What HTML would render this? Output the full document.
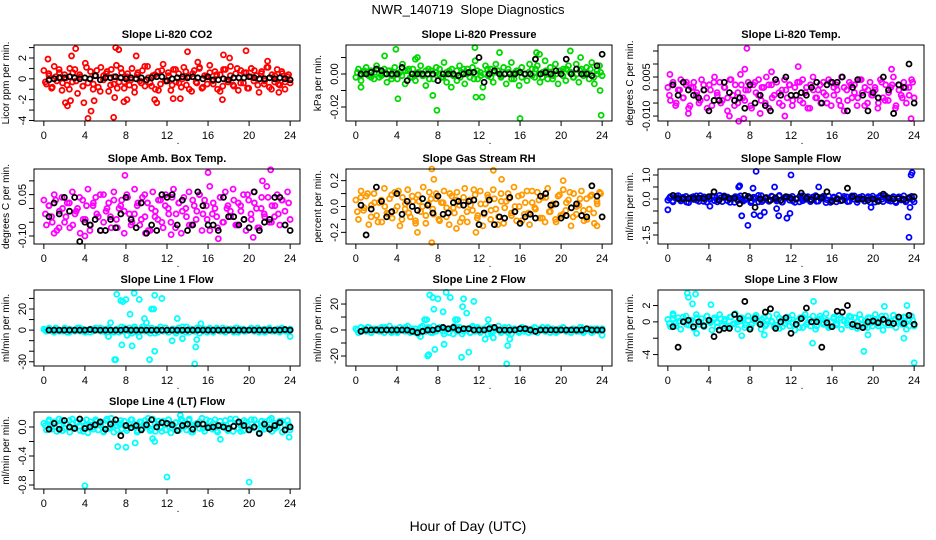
<!DOCTYPE html>
<html><head><meta charset="utf-8"><style>
html,body{margin:0;padding:0;background:#fff;}
svg{display:block;font-family:"Liberation Sans",sans-serif;}
</style></head><body>
<svg id="chart" width="936" height="540" viewBox="0 0 936 540" xmlns="http://www.w3.org/2000/svg">
<rect width="936" height="540" fill="#fff"/>
<text x="468" y="14" font-size="13" text-anchor="middle" xml:space="preserve">NWR_140719  Slope Diagnostics</text>
<text x="468" y="531" font-size="14" text-anchor="middle">Hour of Day (UTC)</text>
</svg>
<script>
const hourTicks=[0,4,8,12,16,20,24];
const co2Vals=[0.8,-0.5,0.3,-0.9,1.2,-0.2,0.6,-1.1,0.4,-0.6,1.0,-0.3,0.9,-1.4,0.2,-0.7,1.5,-0.4,0.7,-1.0,0.3,-0.8,1.1,-0.1,0.5,-1.2,0.9,-0.5,1.3,-0.3,0.6,-0.9,0.2,-0.6,1.0,-1.3,0.4,-0.2,0.8,-0.7,1.2,-0.4,0.3,-1.0,0.7,-0.5,1.4,-0.2,0.6,-1.1,0.9,-0.3,0.5,-0.8,1.1,-0.6,0.2,-1.2,0.8,-0.4,1.0,-0.9,0.3,-0.5,1.3,-0.2,0.7,-1.0,0.4,-0.7,0.9,-0.3,1.2,-0.6,0.5,-1.1,0.8,-0.4,0.6,-0.9,1.0,-0.2,0.3,-1.3,0.7,-0.5,1.1,-0.8,0.4,-0.3,0.9,-0.6,0.5,-1.0,0.2,-0.4];
const co2Vals2=[-0.3,0.5,-0.8,0.2,0.9,-0.4,0.1,-1.0,0.6,-0.2,0.4,-0.7,1.1,0.0,-0.5,0.8,-1.2,0.3,0.7,-0.6,0.2,-0.9,1.0,-0.3,0.5,-0.1,-0.8,0.6,-0.4,1.2,0.1,-0.7,0.4,-1.1,0.8,-0.2,0.3,-0.6,0.9,-0.4,0.0,0.7,-1.0,0.5,-0.3,1.1,-0.8,0.2,0.6,-0.5,0.4,-1.2,0.9,-0.1,0.3,-0.7,1.0,-0.4,0.6,-0.9,0.2,0.8,-0.6,0.5,-0.2,1.1,-1.0,0.3,-0.5,0.7,-0.3,0.4];
const co2Black=[-0.1,0.0,0.1,0.1,0.2,0.1,0.0,0.1,0.0,0.3,-0.1,0.1,0.1,0.2,0.1,0.0,0.1,0.0,0.1,-0.1,0.1,0.2,0.2,-0.2,0.0,0.1,0.2,0.1,0.2,0.1,0.0,0.2,-0.1,-0.1,0.0,-0.1,0.1,0.1,0.1,0.2,0.1,0.0,0.0,0.1,0.0,0.1,0.0,-0.1];
const co2Out=[[0.4,1.9],[2.1,-2.3],[2.3,-2.6],[2.6,-2.1],[2.7,2.2],[3.1,2.9],[3.9,-2.3],[4.3,-3.8],[4.6,-3.1],[4.9,-2.1],[7.0,3.0],[7.3,2.8],[6.8,-3.7],[6.9,-1.8],[7.8,-2.2],[8.1,-2.0],[9.0,2.2],[10.8,-2.0],[11.0,-2.3],[12.6,-1.9],[14.0,2.6],[13.3,-1.9],[15.0,1.6],[17.5,2.3],[17.4,-2.0],[18.1,2.0],[19.7,2.7],[21.8,1.7],[22.9,-1.3]];
const presVals=[-0.002,0.003,-0.004,0.001,0.004,-0.001,0.002,-0.003,0.005,-0.002,0.000,0.003,-0.005,0.002,-0.001,0.004,-0.003,0.001,0.006,-0.006,0.002,-0.002,0.003,-0.004,0.001,0.005,-0.001,-0.007,0.003,0.002,-0.003,0.004,0.000,-0.002,0.007,-0.005,0.002,0.003,-0.001,-0.004,0.005,0.001,-0.006,0.003,-0.002,0.004,0.008,-0.003,0.001,-0.008,0.005,-0.001,0.003,-0.005,0.006,0.002,-0.002,0.004,-0.006,0.001,0.007,-0.003,0.002,-0.007,0.004,0.000,-0.004,0.006,0.003,-0.002,0.005,-0.005,0.001,0.008,-0.003,0.004,-0.001,0.006,-0.006,0.002,0.003,-0.004,0.005,0.001,-0.002,0.006,-0.005,0.003,0.000,0.004,-0.003,0.007,-0.006,0.002,0.005,-0.001];
const presVals2=[0.001,-0.001,0.002,0.000,-0.002,0.001,0.003,-0.001,0.000,0.002,-0.003,0.001,0.000,-0.001,0.002,0.003,-0.002,0.000,0.001,-0.001,0.002,-0.003,0.000,0.001,0.003,-0.002,0.001,0.000,-0.001,0.002,-0.002,0.003,0.000,0.001,-0.003,0.002,-0.001,0.000,0.003,-0.002,0.001,0.002,-0.001,0.000,0.003,-0.003,0.001,0.002,-0.002,0.000,0.001,-0.001,0.003,0.000,-0.002,0.002,0.001,-0.003,0.000,0.002,-0.001,0.003,0.001,-0.002,0.000,0.002,-0.001,0.001,0.003,-0.002,0.000,0.001];
const presBlack=[0,0,0.001,0.003,0.002,0,0,0,0.004,-0.004,0,0,0,0,0,-0.004,0,0,0,-0.001,0,0.001,0.001,0.010,-0.005,0,0.002,0,0,0,0,0.001,0,0,0.009,0,0.001,0,0.002,0,0.009,0,0.003,0,0,-0.001,0.005,0.012];
const presOut=[[0.5,-0.008],[2.8,0.011],[3.9,0.015],[4.1,-0.015],[5.8,0.009],[7.9,-0.022],[7.5,-0.013],[11.6,0.016],[11.7,-0.014],[12.3,-0.014],[14.0,0.013],[16.0,-0.027],[17.6,0.013],[17.9,0.012],[20.9,0.014],[21.9,0.010],[23.9,-0.025],[23.8,-0.010],[6.0,0.010],[9.3,-0.008]];
const tempVals=[0.001,-0.004,0.003,-0.006,0.000,0.004,-0.003,0.002,-0.007,0.001,0.003,-0.002,-0.005,0.004,0.000,-0.003,0.002,-0.006,0.005,-0.001,0.003,-0.004,0.001,-0.008,0.004,-0.002,0.002,-0.005,0.006,-0.003,0.000,0.003,-0.006,0.002,-0.001,0.004,-0.004,0.001,0.005,-0.007,0.002,-0.002,0.003,-0.005,0.000,0.004,-0.003,0.002,-0.006,0.001,0.003,-0.004,0.004,-0.001,-0.007,0.002,0.005,-0.003,0.000,-0.005,0.003,-0.002,0.004,-0.006,0.001,0.002,-0.004,0.005,-0.008,0.000,0.003,-0.003,0.002,-0.006,0.004,-0.001,0.001,-0.005,0.003,-0.002,0.000,-0.007,0.004,-0.003,0.002,-0.004,0.001,0.005,-0.006,0.002,-0.002,0.003,-0.005,0.001,0.004,-0.003];
const tempVals2=[-0.002,0.002,-0.005,0.000,-0.003,0.003,-0.006,0.001,-0.001,-0.004,0.002,-0.007,0.000,0.003,-0.002,-0.005,0.001,-0.003,0.004,-0.006,-0.001,0.002,-0.004,0.000,-0.007,0.003,-0.002,0.001,-0.005,0.002,-0.003,0.004,-0.001,-0.006,0.000,0.002,-0.004,-0.002,0.003,-0.005,0.001,-0.007,0.000,-0.003,0.002,-0.001,-0.005,0.003,-0.002,0.000,-0.006,0.001,-0.004,0.002,-0.001,-0.003,0.004,-0.006,0.000,-0.002,0.001,-0.005,0.003,-0.004,-0.001,0.002,-0.007,0.000,-0.003,0.001,-0.002,0.003];
const tempBlack=[0.002,-0.002,0.003,0.000,-0.002,-0.003,0.000,-0.008,-0.004,-0.004,0.003,-0.001,-0.004,-0.003,-0.007,0.002,-0.005,-0.002,-0.006,-0.008,0.004,-0.002,0.005,-0.002,-0.002,-0.001,-0.002,0.001,0.003,-0.005,0.002,0.003,0.003,0.005,-0.008,0.001,0.004,-0.002,-0.008,-0.001,-0.003,0.005,0.000,-0.009,0.002,0.001,0.010,-0.005];
const tempOut=[[0.2,0.006],[0.4,0.002],[7.7,0.016],[7.5,0.008],[6.9,-0.012],[6.0,-0.010],[7.4,-0.011],[10.1,0.007],[12.7,0.009],[11.4,-0.010],[21.8,0.008],[23.7,-0.011],[2.0,-0.009],[9.0,-0.009]];
const ambVals=[0.03,-0.06,0.01,-0.03,0.05,-0.08,-0.01,0.04,-0.05,0.02,-0.07,0.06,-0.02,0.00,-0.09,0.03,-0.04,0.07,-0.06,0.01,0.04,-0.03,-0.08,0.05,-0.01,0.02,-0.07,0.06,-0.04,0.00,0.03,-0.09,0.05,-0.02,-0.05,0.07,0.01,-0.06,0.04,-0.03,0.02,-0.08,0.06,-0.01,-0.04,0.03,-0.07,0.05,0.00,-0.05,0.07,-0.02,0.02,-0.09,0.04,-0.03,0.06,-0.06,0.01,-0.01,0.05,-0.08,0.03,-0.04,0.08,-0.02,0.00,-0.07,0.04,-0.05,0.06,0.01,-0.03,0.07,-0.06,0.02,-0.01,0.05,-0.08,0.03,-0.04,0.06,0.00,-0.07,0.04,-0.02,0.08,-0.05,0.01,-0.03,0.05,-0.06,0.03,-0.01,0.06,-0.04];
const ambVals2=[-0.02,0.01,-0.05,0.03,-0.07,0.00,-0.03,0.02,-0.06,-0.01,0.04,-0.04,0.01,-0.08,0.02,-0.02,0.05,-0.05,0.00,-0.03,0.03,-0.07,0.01,-0.01,0.04,-0.06,-0.02,0.02,-0.04,0.05,-0.08,0.00,-0.03,0.03,-0.05,0.01,-0.02,0.04,-0.07,0.02,-0.01,0.00,-0.06,0.03,-0.04,0.05,-0.02,0.01,-0.08,0.02,-0.03,0.04,-0.05,0.00,-0.01,0.03,-0.06,0.01,-0.04,0.05,-0.02,0.02,-0.07,0.00,-0.03,0.04,-0.05,0.01,-0.02,0.03,-0.06,0.02];
const ambBlack=[-0.03,0.02,-0.02,0.04,-0.01,0.04,-0.12,-0.05,-0.06,-0.04,-0.08,-0.08,-0.04,-0.07,-0.02,0.04,-0.04,-0.07,0.02,-0.09,-0.06,-0.08,0.05,0.04,0.05,-0.06,0.03,-0.08,-0.06,0.06,0.01,-0.06,-0.06,-0.08,0.04,-0.03,-0.03,-0.06,-0.04,-0.07,0.06,-0.08,-0.05,-0.04,0.04,0.04,-0.06,-0.08];
const ambOut=[[7.9,0.12],[16.0,0.13],[22.1,0.14],[17.0,-0.11],[20.4,-0.105],[4.0,-0.10],[1.0,-0.09],[9.9,-0.09],[12.4,-0.095],[21.3,0.10]];
const rhVals=[0.05,-0.10,0.12,-0.03,0.08,-0.14,0.01,0.10,-0.07,0.03,-0.12,0.14,-0.05,0.06,-0.09,0.11,0.00,-0.15,0.07,-0.02,0.13,-0.08,0.04,-0.11,0.09,-0.04,0.15,-0.13,0.02,0.06,-0.06,0.10,-0.10,0.03,0.12,-0.01,-0.14,0.08,-0.05,0.11,0.01,-0.09,0.14,-0.12,0.05,-0.03,0.09,-0.07,0.12,-0.15,0.02,0.07,-0.10,0.13,-0.02,-0.08,0.10,-0.13,0.04,0.06,-0.05,0.15,-0.11,0.00,0.09,-0.06,0.12,-0.14,0.03,-0.01,0.11,-0.09,0.07,-0.12,0.14,-0.04,0.02,-0.10,0.08,-0.07,0.13,-0.03,0.05,-0.15,0.10,-0.06,0.01,0.12,-0.11,0.06,-0.02,0.09,-0.13,0.04,0.11,-0.08];
const rhVals2=[-0.04,0.07,-0.01,0.10,-0.08,0.03,-0.12,0.05,0.00,-0.06,0.09,-0.03,0.12,-0.10,0.02,-0.05,0.08,-0.13,0.04,0.00,-0.07,0.11,-0.02,0.06,-0.11,0.03,-0.08,0.10,-0.01,0.05,-0.12,0.07,-0.04,0.01,0.13,-0.09,0.02,-0.06,0.09,-0.03,0.06,-0.14,0.04,-0.01,0.10,-0.07,0.00,0.08,-0.11,0.03,-0.05,0.12,-0.02,0.05,-0.09,0.07,-0.04,0.01,-0.12,0.09,-0.06,0.03,0.11,-0.08,0.00,0.06,-0.03,-0.10,0.08,-0.05,0.02,0.10];
const rhBlack=[0.01,-0.22,-0.02,0.15,0.04,-0.08,-0.04,0.10,-0.06,0.04,0.00,-0.03,0.06,0.01,-0.05,0.08,-0.06,-0.05,0.03,0.04,0.01,0.04,0.05,-0.14,-0.05,0.05,-0.14,-0.08,-0.09,0.07,-0.04,-0.13,-0.08,-0.06,-0.09,0.08,0.10,0.01,0.02,-0.09,-0.07,-0.01,0.02,-0.07,-0.08,0.16,0.08,-0.08];
const rhOut=[[7.4,0.29],[7.4,-0.28],[13.4,0.28],[6.0,-0.2],[11.7,-0.2],[20.2,0.2],[7.6,0.21],[14.2,0.21],[9.8,-0.17],[23.5,-0.15]];
const sfVals=[-0.05,0.10,-0.12,0.03,0.14,-0.08,0.00,0.11,-0.15,0.06,-0.02,0.13,-0.10,0.04,0.09,-0.13,0.01,0.12,-0.07,-0.03,0.15,-0.11,0.05,0.08,-0.14,0.02,0.10,-0.06,0.13,-0.09,-0.01,0.11,-0.15,0.07,0.03,-0.12,0.14,-0.04,0.06,-0.10,0.12,0.00,-0.08,0.15,-0.13,0.04,0.09,-0.05,0.11,-0.14,0.02,0.13,-0.07,-0.02,0.10,-0.11,0.06,0.14,-0.09,0.01,0.08,-0.15,0.12,-0.03,0.05,-0.12,0.15,-0.06,0.03,0.09,-0.10,0.13,-0.01,-0.14,0.07,0.11,-0.08,0.04,-0.13,0.12,0.00,-0.05,0.14,-0.11,0.06,0.02,-0.09,0.10,-0.15,0.08,-0.04,0.13,-0.07,0.01,0.11,-0.12];
const sfVals2=[0.04,-0.08,0.12,-0.02,0.07,-0.13,0.01,0.10,-0.05,0.14,-0.10,0.03,-0.01,0.09,-0.12,0.05,0.13,-0.07,0.02,-0.14,0.08,0.00,-0.04,0.11,-0.09,0.06,0.15,-0.11,0.03,-0.06,0.10,-0.02,0.12,-0.13,0.04,0.07,-0.08,0.01,-0.12,0.14,0.00,-0.05,0.09,-0.10,0.06,0.12,-0.03,-0.14,0.08,0.02,-0.07,0.11,-0.11,0.05,0.13,-0.04,0.00,-0.09,0.10,0.03,-0.13,0.07,-0.01,0.14,-0.06,0.04,-0.10,0.09,0.01,-0.12,0.06,-0.03];
const sfBlack=[0.15,0.02,0.01,0.02,0.03,0.04,0.02,0.1,0.3,-0.05,0.1,0.02,0.03,-0.2,0.15,0.05,-0.35,0.0,0.05,-0.05,0.05,-0.05,0.1,0.03,0.0,0.25,0.05,-0.03,0.1,0.05,0.3,-0.1,0.0,-0.05,0.45,0.1,0.0,0.0,-0.05,0.0,-0.1,0.2,0.05,0.0,0.02,-0.02,0.05,0.1];
const sfOut=[[0.0,-0.45],[4.1,-0.3],[6.9,0.5],[7.0,0.55],[7.2,-0.7],[7.8,-1.1],[8.3,0.45],[8.6,1.15],[8.4,-0.65],[9.0,-0.7],[9.4,-0.55],[10.4,0.5],[10.6,-0.4],[10.8,-0.7],[11.6,-0.8],[11.9,-0.6],[12.0,1.0],[14.7,0.5],[19.8,-0.35],[23.5,-1.6],[23.4,-0.75],[23.7,1.0],[23.8,1.1],[23.6,-0.35]];
const l1Vals=[1,-1,2,0,-2,1,-1,0,2,-2,1,0,-1,2,-1,1,-2,0,1,-1,2,0,-1,1,-2,2,0,-1,1,-2,3,-1,0,2,-3,1,-2,0,3,-1,2,-3,0,1,-2,3,-1,2,-2,0,1,-3,2,-1,0,3,-2,1,-1,2,-3,0,1,-2,2,-1,0,1,-1,2,-2,0,1,-1,2,-2,0,1,-1,0,2,-1,1,-2,0,1,-1,2,-1,0,1,-2,1,0,-1,1];
const l1Vals2=[0,1,-1,2,0,-1,1,-2,0,1,2,-1,0,-2,1,0,2,-1,1,0,-2,1,-1,2,0,-1,3,-2,1,0,-1,2,-3,1,0,2,-2,1,-1,0,3,-2,1,0,-1,2,-1,0,1,-2,2,0,-1,1,0,-2,2,1,-1,0,1,-1,2,0,-2,1,0,-1,1,2,-1,0];
const l1Black=[0,0,0,0,0,0,0,0,0.5,0,0,0,0,0,0,0.5,0,0,0,0,0,0,0,0,0,0,0,0,0,0,0,0,0,0,0,0,0,0,0,0,0,0,0,0,0,0,0.5,0];
const l1Out=[[7.1,34],[7.5,28],[7.7,27],[8.0,29],[8.8,35],[9.3,29],[10.8,33],[11.5,30],[8.4,15],[9.8,11],[10.5,20],[10.7,20],[10.0,7],[6.5,7],[6.3,-6],[7.6,-14],[8.6,-15],[10.8,-20],[6.9,-28],[7.0,-28],[10.3,-28],[12.5,-10],[13.0,11],[14.8,-16],[14.9,-9],[14.7,-32],[13.5,-8],[15.3,6],[24.0,-6],[9.3,-6],[8.1,-5]];
const l2Vals=[1,-2,2,0,-1,2,-2,1,0,-1,2,-2,1,3,-1,0,-2,2,1,-1,3,-2,0,1,-3,2,-1,0,2,-2,3,-1,1,2,-3,0,-2,1,3,-1,2,-3,1,0,-2,3,-1,2,-2,1,0,-3,2,-1,1,3,-2,0,-1,2,-3,1,0,-2,2,-1,1,0,-1,2,-2,1,0,-1,2,-2,1,0,-1,1,2,-1,0,-2,1,0,-1,2,-1,1,0,-2,1,0,-1,1];
const l2Vals2=[0,-1,1,2,-2,0,1,-1,2,0,-2,1,-1,0,2,-1,1,-2,0,3,-1,1,-2,0,2,-1,0,1,-3,2,0,-1,1,-2,2,1,-1,0,3,-2,1,0,-1,2,-2,0,1,-1,2,0,-2,1,-1,0,2,-1,1,0,-2,1,2,-1,0,1,-1,2,-2,0,1,-1,1,0];
const l2Black=[-1,0,0,0,0,0,0,0,0,0,-1,-2,-1,0,0,1,2,1,2,0,1,1,0,0,0,1,2,0,0,0,0,1,1,0,-1,0,0,0,0,0,0,0,0,0,1,0,0,0];
const l2Out=[[7.2,27],[7.5,25],[8.0,24],[8.8,29],[9.2,25],[10.5,24],[11.5,22],[7.6,16],[8.5,14],[10.4,18],[10.8,13],[9.7,8],[9.9,8],[6.7,8],[6.9,8],[12.9,8],[7.7,-15],[8.6,-11],[7.0,-20],[7.1,-19],[10.3,-21],[11.0,-17],[12.6,-7],[14.7,-26],[14.8,-12],[15.0,-7],[13.4,-6],[6.3,-5],[24.0,-4]];
const l3Vals=[0.3,-0.6,0.8,-0.2,0.5,-0.9,0.1,0.7,-0.4,0.2,-0.8,0.9,-0.3,0.4,-0.6,0.7,0.0,-1.0,0.5,-0.1,0.9,-0.5,0.3,-0.7,0.6,-0.3,1.0,-0.9,0.1,0.4,-0.4,0.7,-0.7,0.2,0.8,-0.1,-0.9,0.5,-0.3,0.7,0.1,-0.6,0.9,-0.8,0.3,-0.2,0.6,-0.5,0.8,-1.0,0.1,0.5,-0.7,0.9,-0.1,-0.5,0.7,-0.9,0.3,0.4,-0.3,1.0,-0.7,0.0,0.6,-0.4,0.8,-0.9,0.2,-0.1,0.7,-0.6,0.5,-0.8,0.9,-0.3,0.1,-0.7,0.5,-0.5,0.9,-0.2,0.3,-1.0,0.7,-0.4,0.1,0.8,-0.7,0.4,-0.1,0.6,-0.9,0.3,0.7,-0.5];
const l3Vals2=[-0.2,0.4,-0.5,0.1,0.6,-0.3,0.2,-0.7,0.5,0.0,-0.4,0.7,-0.1,0.3,-0.6,0.4,0.1,-0.5,0.6,-0.2,0.0,0.5,-0.7,0.2,-0.3,0.6,-0.1,0.3,-0.5,0.7,0.0,-0.4,0.5,-0.6,0.2,0.4,-0.2,0.1,-0.7,0.6,-0.3,0.3,0.0,-0.5,0.7,-0.1,0.2,-0.6,0.4,-0.2,0.5,0.1,-0.4,0.6,-0.3,0.0,0.3,-0.6,0.5,-0.1,0.2,-0.5,0.7,-0.2,0.1,-0.4,0.4,0.0,-0.3,0.6,-0.5,0.2];
const l3Black=[-0.6,-3.1,0.0,0.2,-0.6,0.0,-0.5,0.2,-1.8,-1.0,-0.8,-0.8,0.9,0.4,2.5,-0.9,0.4,-0.3,1.2,1.6,-0.8,0.0,0.5,-1.4,-0.3,0.4,1.7,0.0,0.0,-3.1,-0.1,-0.6,1.3,1.2,2.0,-0.3,-0.5,-0.7,0.0,0.1,-0.1,0.3,-0.1,-0.2,0.6,-0.2,0.8,-0.3];
const l3Out=[[1.9,3.5],[2.0,3.0],[2.7,3.4],[2.4,2.2],[4.2,2.1],[14.2,2.5],[14.1,-2.6],[19.1,-3.6],[19.5,-1.6],[23.0,-2.0],[24.0,-5.0],[23.3,2.0],[2.8,-1.4],[7.2,-1.7],[9.4,-1.6],[21.1,1.9],[0.5,1.0]];
const l4Vals=[0.05,-0.04,0.10,0.00,0.07,-0.06,0.02,0.09,-0.02,0.04,-0.07,0.11,-0.01,0.06,-0.05,0.08,0.01,-0.08,0.07,0.00,0.10,-0.04,0.03,-0.06,0.09,-0.02,0.12,-0.07,0.02,0.05,-0.03,0.08,-0.05,0.03,0.10,0.00,-0.07,0.07,-0.02,0.09,0.01,-0.05,0.11,-0.06,0.04,-0.01,0.08,-0.04,0.10,-0.08,0.02,0.06,-0.05,0.11,0.00,-0.04,0.09,-0.07,0.03,0.05,-0.02,0.12,-0.06,0.01,0.08,-0.03,0.10,-0.07,0.02,0.00,0.09,-0.05,0.06,-0.06,0.11,-0.02,0.02,-0.05,0.07,-0.04,0.10,-0.01,0.04,-0.08,0.08,-0.03,0.01,0.10,-0.06,0.05,0.00,0.08,-0.07,0.03,0.09,-0.04];
const l4Vals2=[0.02,0.08,-0.03,0.06,0.11,-0.05,0.04,0.09,-0.01,0.07,0.01,-0.06,0.10,0.03,-0.03,0.08,0.05,-0.07,0.11,0.00,0.06,-0.04,0.09,0.02,-0.02,0.10,0.04,-0.05,0.07,0.01,0.12,-0.03,0.05,0.08,-0.06,0.03,0.10,-0.01,0.06,-0.04,0.09,0.02,0.11,-0.07,0.04,0.07,-0.02,0.10,0.00,0.05,-0.05,0.08,0.03,-0.03,0.11,0.01,0.06,-0.06,0.09,0.02,-0.01,0.10,0.04,-0.04,0.07,0.00,0.12,-0.02,0.05,0.08,-0.05,0.03];
const l4Black=[-0.03,0.05,-0.03,0.09,0.0,-0.02,0.11,-0.02,0.0,0.03,0.07,-0.03,0.04,0.10,-0.12,0.02,-0.01,0.02,-0.04,0.03,0.10,0.0,0.06,0.05,0.03,-0.05,0.02,0.04,-0.03,0.04,0.04,-0.01,0.0,0.02,0.0,-0.02,0.01,0.07,0.02,-0.04,0.0,-0.09,0.04,-0.03,0.02,0.06,-0.04,0.0];
const l4Out=[[4.0,-0.81],[7.2,-0.27],[8.0,-0.28],[8.9,-0.22],[10.8,-0.2],[10.6,-0.16],[12.0,-0.69],[17.2,-0.17],[20.0,-0.76],[13.3,0.16],[23.9,-0.14]];

const NS='http://www.w3.org/2000/svg';
const svg=document.getElementById('chart');
function mk(tag,attrs,parent){const e=document.createElementNS(NS,tag);for(const k in attrs)e.setAttribute(k,attrs[k]);(parent||svg).appendChild(e);return e;}

const panels=[
 {name:'li820-co2',title:'Slope Li-820 CO2',ylab:'Licor ppm per min.',col:0,row:0,dom:[-4.05,3.25],ticks:[-4,-3,-2,-1,0,1,2,3],labs:[-4,-2,0,2],dec:0,color:'#ff0000',vals:co2Vals,vals2:co2Vals2,black:co2Black,out:co2Out},
 {name:'li820-pressure',title:'Slope Li-820 Pressure',ylab:'kPa per min.',col:1,row:0,dom:[-0.0285,0.0176],ticks:[-0.02,-0.01,0,0.01],labs:[-0.02,0],dec:2,color:'#00d800',vals:presVals,vals2:presVals2,black:presBlack,out:presOut},
 {name:'li820-temp',title:'Slope Li-820 Temp.',ylab:'degrees C per min.',col:2,row:0,dom:[-0.0119,0.0173],ticks:[-0.01,-0.005,0,0.005,0.01,0.015],labs:[-0.01,0.005],dec:3,color:'#ff00ff',vals:tempVals,vals2:tempVals2,black:tempBlack,out:tempOut},
 {name:'amb-box-temp',title:'Slope Amb. Box Temp.',ylab:'degrees C per min.',col:0,row:1,dom:[-0.129,0.143],ticks:[-0.1,-0.05,0,0.05,0.1],labs:[-0.1,0.05],dec:2,color:'#ff00ff',vals:ambVals,vals2:ambVals2,black:ambBlack,out:ambOut},
 {name:'gas-stream-rh',title:'Slope Gas Stream RH',ylab:'percent per min.',col:1,row:1,dom:[-0.29,0.29],ticks:[-0.2,-0.1,0,0.1,0.2],labs:[-0.2,0,0.2],dec:1,color:'#ff9a00',vals:rhVals,vals2:rhVals2,black:rhBlack,out:rhOut},
 {name:'sample-flow',title:'Slope Sample Flow',ylab:'ml/min per min.',col:2,row:1,dom:[-1.875,1.25],ticks:[-1.5,-1,-0.5,0,0.5,1],labs:[-1.5,0,1],dec:1,color:'#0000ff',vals:sfVals,vals2:sfVals2,black:sfBlack,out:sfOut},
 {name:'line1-flow',title:'Slope Line 1 Flow',ylab:'ml/min per min.',col:0,row:2,dom:[-34,38],ticks:[-30,-20,-10,0,10,20,30],labs:[-30,0,20],dec:0,color:'#00ffff',vals:l1Vals,vals2:l1Vals2,black:l1Black,out:l1Out},
 {name:'line2-flow',title:'Slope Line 2 Flow',ylab:'ml/min per min.',col:1,row:2,dom:[-27.7,30.8],ticks:[-20,-10,0,10,20],labs:[-20,0,20],dec:0,color:'#00ffff',vals:l2Vals,vals2:l2Vals2,black:l2Black,out:l2Out},
 {name:'line3-flow',title:'Slope Line 3 Flow',ylab:'ml/min per min.',col:2,row:2,dom:[-5.4,3.9],ticks:[-4,-2,0,2],labs:[-4,0,2],dec:0,color:'#00ffff',vals:l3Vals,vals2:l3Vals2,black:l3Black,out:l3Out},
 {name:'line4-lt-flow',title:'Slope Line 4 (LT) Flow',ylab:'ml/min per min.',col:0,row:3,dom:[-0.855,0.207],ticks:[-0.8,-0.6,-0.4,-0.2,0],labs:[-0.8,-0.4,0],dec:1,color:'#00ffff',vals:l4Vals,vals2:l4Vals2,black:l4Black,out:l4Out}
];
const colLeft=[34,346,658], rowTB=[[45,121],[169,244],[290,366],[412,489]], PW=266;

panels.forEach(p=>{
  const L=colLeft[p.col], T=rowTB[p.row][0], B=rowTB[p.row][1];
  const sx=h=>L+(h+0.96)/25.92*PW;
  const sy=v=>B-(v-p.dom[0])/(p.dom[1]-p.dom[0])*(B-T);
  const g=mk('g',{});
  
  
  const t=mk('text',{x:L+PW/2,y:T-7,'font-size':11,'font-weight':'bold','text-anchor':'middle'},g);
  t.textContent=p.title;
  
  
  const cy=(T+B)/2;
  const yl=mk('text',{x:0,y:0,'font-size':10,'text-anchor':'middle',transform:`translate(${L-25},${cy}) rotate(-90)`},g);
  yl.textContent=p.ylab;
  
  
  const dot=mk('text',{x:L+144,y:B+23,'font-size':10,'text-anchor':'middle'},g);
  dot.textContent='.';
  
  
  hourTicks.forEach(h=>{
    const x=sx(h);
    const tk=mk('line',{x1:x,x2:x,y1:B,y2:B+5,stroke:'#000','stroke-width':1},g);
    
    
    const tl=mk('text',{x:x,y:B+18,'font-size':11,'text-anchor':'middle'},g);
    tl.textContent=h;
    
    
  });
  p.ticks.forEach(v=>{
    const y=sy(v);
    const tk=mk('line',{x1:L-5,x2:L,y1:y,y2:y,stroke:'#000','stroke-width':1},g);
    
    
  });
  p.labs.forEach(v=>{
    const y=sy(v);
    const tl=mk('text',{x:0,y:0,'font-size':11,'text-anchor':'middle',transform:`translate(${L-8},${y}) rotate(-90)`},g);
    tl.textContent=(v===0&&p.dec>0)?(0).toFixed(p.dec):v.toFixed(p.dec);
    
    
  });
  const n=p.vals.length;
  p.vals.forEach((v,i)=>{
    const c=mk('circle',{cx:sx(i*24/(n-1)),cy:sy(v),r:2.5,fill:'none',stroke:p.color,'stroke-width':1.8},g);
    
    
  });
  const n2=p.vals2.length;
  p.vals2.forEach((v,i)=>{
    const c=mk('circle',{cx:sx(0.15+i*23.7/(n2-1)),cy:sy(v),r:2.5,fill:'none',stroke:p.color,'stroke-width':1.8},g);
    
    
  });
  p.out.forEach(o=>{
    const c=mk('circle',{cx:sx(o[0]),cy:sy(o[1]),r:2.5,fill:'none',stroke:p.color,'stroke-width':1.8},g);
    
    
  });
  const m=p.black.length;
  p.black.forEach((v,i)=>{
    const c=mk('circle',{cx:sx(0.5+i*23.5/(m-1)),cy:sy(v),r:2.5,fill:'none',stroke:'#000','stroke-width':1.8},g);
    
    
  });
  const box=mk('rect',{x:L,y:T,width:PW,height:B-T,fill:'none',stroke:'#000','stroke-width':1},g);
  
  
});
</script>
</body></html>
